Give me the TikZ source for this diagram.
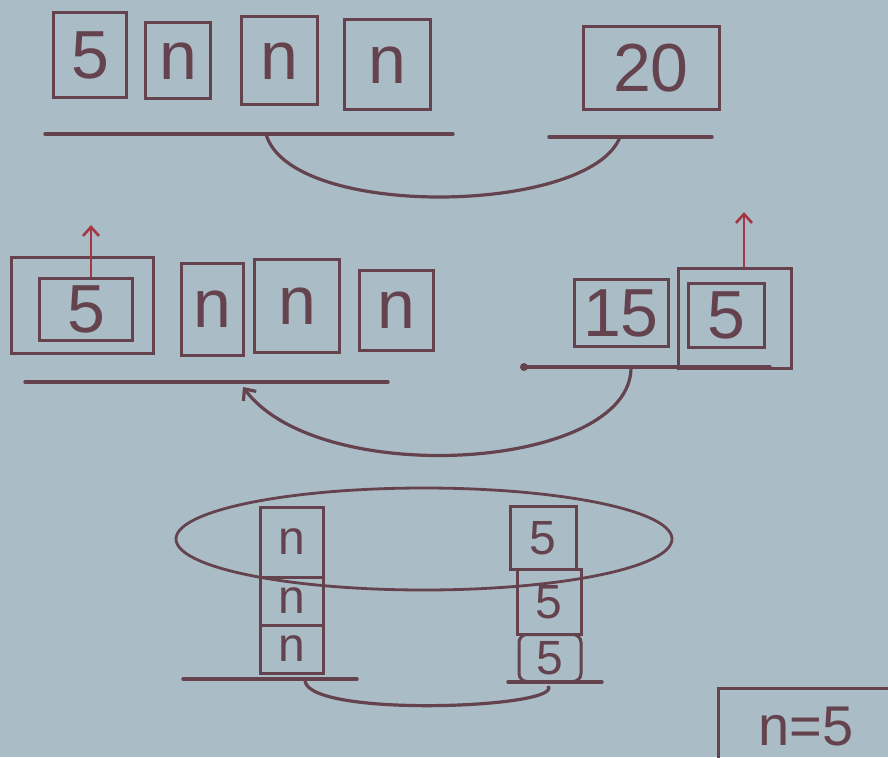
\documentclass[tikz,border=0pt]{standalone}
\usepackage{fontspec}
\setmainfont{Liberation Sans}
\usepackage{tikz}
\usetikzlibrary{arrows.meta}
\definecolor{board}{RGB}{170,188,197}
\definecolor{marker}{RGB}{100,66,78}
\definecolor{redmark}{RGB}{165,55,68}

\begin{document}
\begin{tikzpicture}[
    x=1pt, y=-1pt,
    >={Straight Barb[length=9pt,width=16pt]},
    line width=3.2pt,
    marker,
    cell/.style={rectangle, draw=marker, line width=3pt, inner sep=0pt, text=marker, font=\fontsize{68}{74}\selectfont},
    small/.style={cell, font=\fontsize{48}{52}\selectfont},
    base/.style={draw=marker, line width=3.4pt, line cap=round},
    link/.style={draw=marker, line width=3.2pt},
    up/.style={->, draw=redmark, line width=2.6pt}
]
\fill[board] (0,0) rectangle (888,757);
\clip (0,0) rectangle (888,757);
\node[cell, minimum width=73, minimum height=85] (s1) at (90,55) {5};
\node[cell, minimum width=65, minimum height=76] (n1a) at (178,61) {n};
\node[cell, minimum width=76, minimum height=88] (n1b) at (279,61) {n};
\node[cell, minimum width=86, minimum height=90] (n1c) at (387,65) {n};
\node[cell, minimum width=136, minimum height=83] (sum1) at (651,68) {20};
\coordinate (base1a) at (45,134);
\coordinate (base1b) at (453,134);
\coordinate (base1c) at (549,137);
\coordinate (base1d) at (712,137);
\coordinate (link1a) at (266,134);
\coordinate (link1b) at (620,137);
\draw[base] (base1a) -- (base1b);
\draw[base] (base1c) -- (base1d);
\draw[link] (link1a) .. controls (290,220) and (590,215) .. (link1b);
\node[cell, minimum width=142, minimum height=96] (s2box) at (82,305) {};
\node[cell, minimum width=93, minimum height=62] (s2) at (86,309) {5};
\node[cell, minimum width=62, minimum height=92] (n2a) at (212,309) {n};
\node[cell, minimum width=85, minimum height=93] (n2b) at (297,306) {n};
\node[cell, minimum width=74, minimum height=80] (n2c) at (396,310) {n};
\node[cell, minimum width=94, minimum height=67] (sum2) at (621,313) {15};
\node[cell, minimum width=113, minimum height=100] (s2rbox) at (735,318) {};
\node[cell, minimum width=76, minimum height=64] (s2r) at (726,315) {5};
\coordinate (up1) at (91,225);
\coordinate (up2) at (744,212);
\draw[up] (s2.north -| up1) -- (up1);
\draw[up] (s2rbox.north -| up2) -- (up2);
\coordinate (base2a) at (25,382);
\coordinate (base2b) at (388,382);
\coordinate (base2c) at (524,367);
\coordinate (base2d) at (770,367);
\coordinate (link2a) at (631,367);
\coordinate (link2b) at (243,387);
\draw[base] (base2a) -- (base2b);
\draw[base] (base2c) -- (base2d);
\fill[marker] (base2c) circle (4);
\draw[link, ->] (link2a) .. controls (632,470) and (320,490) .. (link2b);
\draw[marker, line width=2.8pt] (424,539) ellipse [x radius=248, y radius=51];
\node[small, minimum width=63, minimum height=70] (n3a) at (292,542) {n};
\node[small, minimum width=63, minimum height=48] (n3b) at (292,601) {n};
\node[small, minimum width=63, minimum height=48] (n3c) at (292,649) {n};
\node[small, minimum width=66, minimum height=63] (s3a) at (543,538) {5};
\node[small, minimum width=64, minimum height=65] (s3b) at (549,602) {5};
\node[small, rounded corners=8pt, minimum width=62, minimum height=47] (s3c) at (550,658) {5};
\coordinate (base3a) at (183,679);
\coordinate (base3b) at (357,679);
\coordinate (base3c) at (508,682);
\coordinate (base3d) at (602,682);
\coordinate (link3a) at (305,681);
\coordinate (link3b) at (548,686);
\draw[base] (base3a) -- (base3b);
\draw[base] (base3c) -- (base3d);
\draw[link] (link3a) .. controls (310,718) and (565,708) .. (link3b);
\node[cell, font=\fontsize{56}{62}\selectfont, minimum width=176, minimum height=76] (given) at (806,726) {n=5};
\end{tikzpicture}
\end{document}
